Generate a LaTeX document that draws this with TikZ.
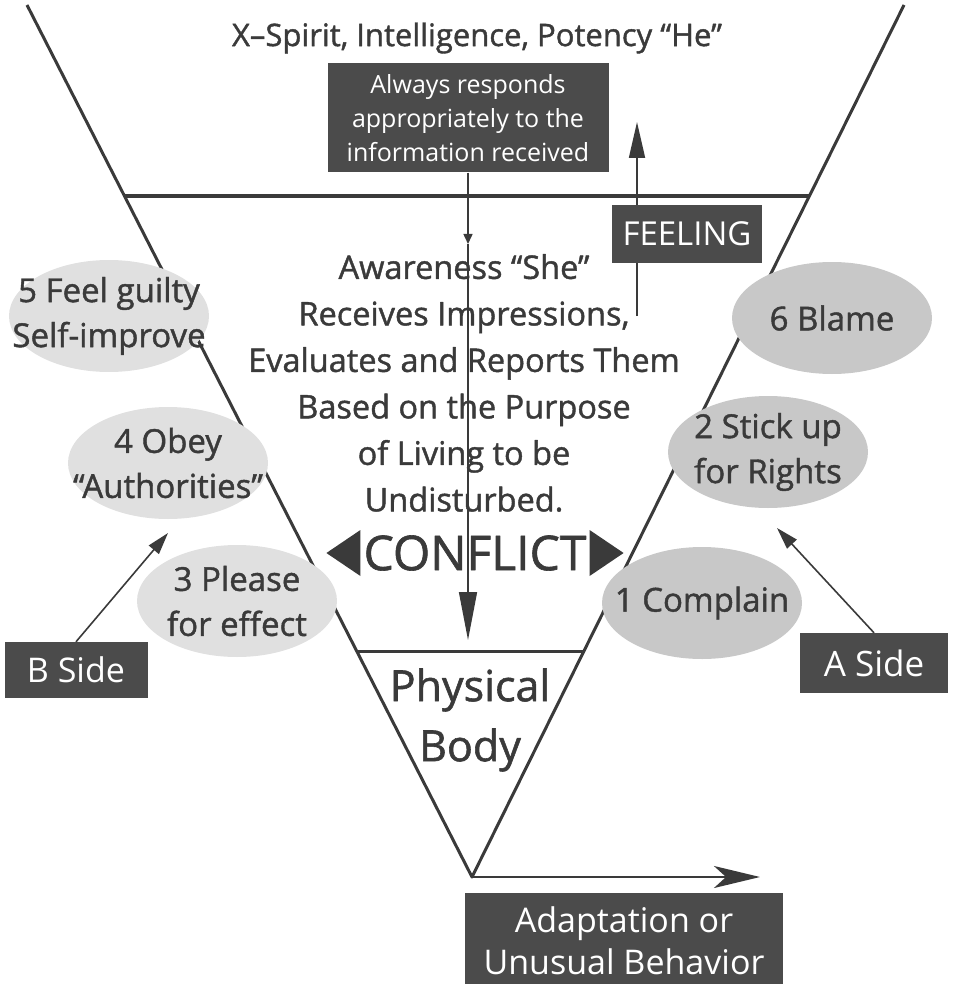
\documentclass[tikz,border=0pt]{standalone}
\usepackage{fontspec}
\setmainfont{Open Sans}
\newfontfamily\inkfont{Open Sans}[FakeBold=1.3]
\usetikzlibrary{shapes.geometric,positioning,arrows.meta}
\definecolor{ink}{HTML}{3A3A3A}
\definecolor{boxgray}{HTML}{4B4B4B}
\definecolor{dotlight}{HTML}{E0E0E0}
\definecolor{dotdark}{HTML}{C8C8C8}

\begin{document}
\begin{tikzpicture}[x=1pt,y=-1pt,line join=round,
  every node/.style={text=ink},
  dark/.style={fill=boxgray,text=white,align=center,inner sep=0pt},
  oval/.style={ellipse,align=center,inner xsep=-30pt,inner ysep=-15pt,minimum width=200,minimum height=112,font=\inkfont\fontsize{33}{45}\selectfont},
  lightoval/.style={oval,fill=dotlight},
  darkoval/.style={oval,fill=dotdark},
  vline/.style={draw=ink,line width=3},
  pointer/.style={draw=ink,line width=1.6,-{Triangle[length=22,width=13]}}]
\useasboundingbox (0,0) rectangle (955,984);
\coordinate (top_l) at (27,5);
\coordinate (top_r) at (904,5);
\coordinate (apex) at (472,877);
\coordinate (mid_l) at (124,196);
\coordinate (mid_r) at (810,196);
\coordinate (low_l) at (357,651);
\coordinate (low_r) at (584,651);
\draw[vline] (top_l) -- (apex) -- (top_r);
\draw[ink,line width=3.5] (mid_l) -- (mid_r);
\draw[vline] (low_l) -- (low_r);

\node[font=\inkfont\fontsize{31}{35}\selectfont] (spirit) at (477,38) {X–Spirit, Intelligence, Potency “He”};
\node[dark,minimum width=281,minimum height=109,font=\fontsize{25}{34}\selectfont] (always) at (468,118) {Always responds\\appropriately to the\\information received};
\node[font=\inkfont\fontsize{32.5}{46.5}\selectfont,align=center] (aware) at (464,383) {Awareness “She”\\Receives Impressions,\\Evaluates and Reports Them\\Based on the Purpose\\of Living to be\\Undisturbed.};

\coordinate (recv) at (468,244);
\coordinate (body_in) at (468,640);
\draw[ink,line width=1.5,-{Triangle[length=10,width=9]}] (always.south) -- (recv);
\draw[ink,line width=1.5,-{Triangle[length=48,width=18]}] (recv) -- (body_in);

\coordinate (feel_base) at (637,316);
\coordinate (feel_tip) at (637,122);
\draw[ink,line width=1.8,-{Triangle[length=36,width=16]}] (feel_base) -- (feel_tip);
\node[dark,minimum width=150,minimum height=57,font=\fontsize{33}{33}\selectfont] (feeling) at (687,234) {FEELING};

\node[lightoval] (guilty) at (109,316) {5 Feel guilty\\Self-improve};
\node[lightoval] (obey) at (168,463) {4 Obey\\“Authorities”};
\node[lightoval] (please) at (237,601) {3 Please\\for effect};
\node[darkoval] (blame) at (832,318) {6 Blame};
\node[darkoval] (stick) at (768,452) {2 Stick up\\for Rights};
\node[darkoval] (complain) at (702,603) {1 Complain};

\node[font=\inkfont\fontsize{48}{48}\selectfont,inner sep=1pt] (conflict) at (475,553) {CONFLICT};
\fill[ink] ([xshift=-2]conflict.west) ++(0,-23) -- ++(0,46) -- ++(-34,-23) -- cycle;
\fill[ink] ([xshift=2]conflict.east) ++(0,-23) -- ++(0,46) -- ++(34,-23) -- cycle;

\node[font=\inkfont\fontsize{43}{60}\selectfont,align=center] (body) at (470,720) {Physical\\Body};

\node[dark,minimum width=143,minimum height=56,font=\fontsize{34}{34}\selectfont] (b_side) at (76,670) {B Side};
\node[dark,minimum width=148,minimum height=60,font=\fontsize{35}{35}\selectfont] (a_side) at (874,663) {A Side};
\coordinate (b_aim) at (168,533);
\coordinate (a_aim) at (777,528);
\draw[pointer] (b_side.north) -- (b_aim);
\draw[pointer] (a_side.north) -- (a_aim);

\coordinate (outcome) at (760,877);
\draw[ink,line width=2.5,-{Stealth[length=46,width=22,inset=12]}] (apex) -- (outcome);
\node[dark,minimum width=318,minimum height=96,font=\fontsize{34}{42}\selectfont] (adapt) at (624,941) {Adaptation or\\Unusual Behavior};
\end{tikzpicture}
\end{document}
